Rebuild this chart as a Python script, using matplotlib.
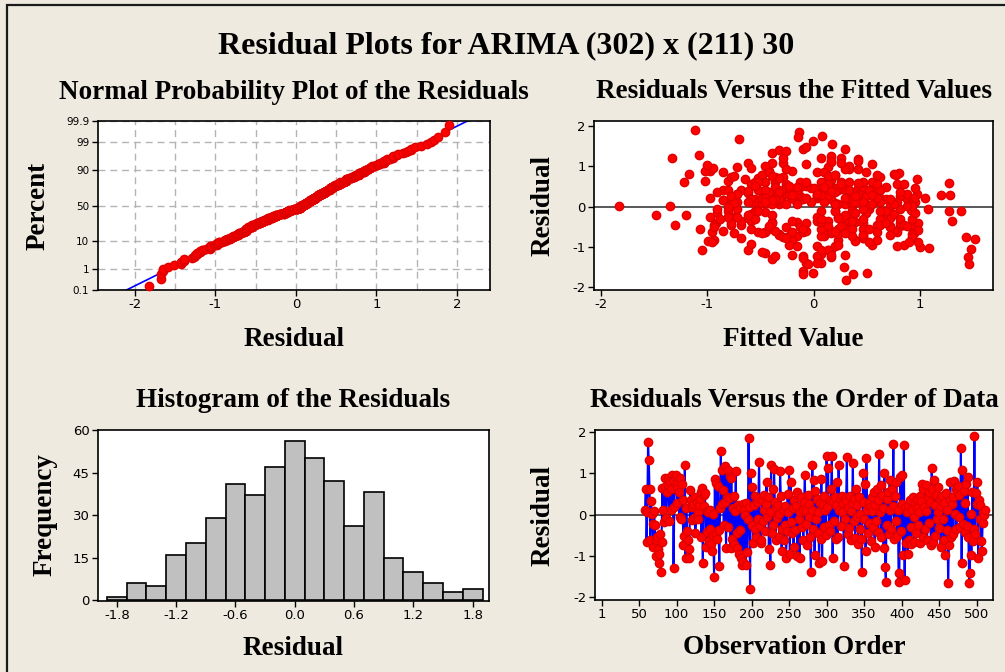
import matplotlib
matplotlib.use("Agg")
import matplotlib.pyplot as plt
import numpy as np
from statistics import NormalDist
from matplotlib.patches import Rectangle
from matplotlib.ticker import FixedLocator, FixedFormatter

plt.rcParams["axes.unicode_minus"] = False

# ---------------- data ----------------
first_obs = 58

residuals = [
    0.11, 0.62, -0.66, 0.05, 1.76, 1.33, 0.63, -0.62, 0.33, 0.02,
    -0.22, -0.78, 0.08, -0.25, -0.62, -1.00, -0.55, -0.83, -1.17, -0.95,
    -0.48, -1.39, -0.67, 0.64, 0.12, -0.18, 0.66, 0.89, -0.08, 0.55,
    0.89, 0.72, -0.15, 0.78, 0.62, 0.10, 0.97, 0.85, -1.29, 0.18,
    0.92, 0.95, 0.68, 0.28, 0.80, 0.55, -0.05, 0.88, -0.12, 0.74,
    0.35, -0.74, -0.52, 1.21, -1.07, 0.15, -0.40, -0.62, -0.85, -1.07,
    0.60, 0.36, -0.13, 0.18, 0.25, -0.08, 0.42, -0.45, -0.12, 0.30,
    0.05, -0.10, 0.22, 0.38, 0.55, -0.55, 0.64, -1.19, 0.48, 0.20,
    0.52, -0.78, -0.42, 0.08, 0.05, -0.65, -0.35, 0.12, -0.72, -0.88,
    0.02, -0.50, -1.51, 0.86, -0.48, 0.76, -0.60, 0.70, -0.38, -1.25,
    0.15, 1.55, 0.25, 1.09, 0.60, -0.25, 1.17, 0.30, -0.82, 0.42,
    1.09, -0.30, 0.40, 0.93, -0.82, 0.89, -0.60, 0.15, 0.45, -0.72,
    0.08, 1.05, -0.82, -0.46, 0.22, -0.95, -0.38, 0.18, -1.05, -1.23,
    0.25, -1.15, 0.12, -0.02, -1.23, 0.28, -0.92, -0.10, 1.85, 0.18,
    -1.82, 1.02, -0.25, 0.68, -0.70, 0.22, -0.35, 0.45, -0.55, 0.30,
    -0.12, 0.40, 1.27, -0.28, -0.70, -0.62, 0.35, -0.15, 0.48, 0.10,
    -0.40, 0.25, 0.78, -0.05, 0.42, -0.85, 0.05, -1.23, 1.21, -0.45,
    0.62, -0.25, 1.10, 0.30, -0.62, 0.18, -0.08, 0.22, 0.02, -0.55,
    1.05, 0.45, -0.88, -0.35, 0.10, -0.62, -0.25, 0.20, -1.07, -0.40,
    0.50, 0.05, 1.09, -0.95, 0.78, -0.18, -0.45, 0.15, -0.80, 0.35,
    -0.38, 0.20, 0.55, -1.02, 0.48, -0.10, -1.07, 0.05, 0.42, -0.30,
    0.12, -0.62, 0.30, 0.97, -0.22, 0.08, -0.75, 0.48, -0.05, 0.25,
    -0.55, -1.39, 0.12, 1.21, -0.35, 0.85, -0.98, 0.58, -0.12, 0.38,
    -0.45, 0.05, -1.19, 0.28, -0.60, 0.86, -1.12, 0.22, -0.30, 0.45,
    0.10, -0.50, 1.43, 0.18, 1.13, -0.25, 0.35, -0.40, 0.62, 1.43,
    -1.07, 0.32, -0.15, 0.42, -0.60, 0.22, 0.80, -0.55, 1.21, 0.12,
    0.38, -0.28, 0.45, 0.05, 0.28, -1.25, 0.40, -0.10, 0.32, 1.39,
    -0.48, 0.15, -0.32, 0.45, -0.62, 0.08, 0.28, 1.25, -0.15, 0.38,
    -0.58, 0.62, -0.05, 0.22, -0.72, 0.42, 0.02, -0.35, -0.60, -1.39,
    0.30, 1.01, -0.10, 0.75, -0.88, 1.37, 0.12, -0.45, 0.28, -0.20,
    0.18, -0.65, 0.42, 0.08, -0.30, 0.55, -0.78, 0.22, -0.15, 0.62,
    0.35, -0.42, 1.48, 0.05, 0.72, -0.55, 0.48, 0.15, -0.82, 1.01,
    -1.27, -1.65, 0.38, -0.25, 0.55, -0.48, 0.85, 0.10, -0.35, 0.62,
    0.20, 1.72, -0.60, 0.45, -0.15, 0.78, -0.52, 0.12, -1.65, -1.43,
    0.92, -0.40, 0.95, 0.25, -0.98, 1.68, -1.59, 0.18, -0.70, 0.05,
    -0.95, 0.22, -0.62, 0.35, -0.30, -0.72, 0.10, 0.42, -0.05, -0.68,
    0.28, -0.45, 0.15, 0.38, -0.25, 0.05, 0.45, -0.70, 0.32, 0.75,
    -0.55, 0.62, 0.18, -0.35, 0.72, 0.08, -0.62, 0.40, 0.55, -0.20,
    0.30, -0.75, 1.13, 0.62, -0.68, 0.85, 0.22, -0.52, 0.48, -0.12,
    0.68, 0.05, -0.32, 0.38, -0.78, 0.20, 0.45, -0.10, -0.62, 0.28,
    -0.98, 0.52, -0.38, 0.12, -1.67, -0.75, 0.35, 0.78, -0.55, 0.25,
    0.42, -0.48, 0.82, 0.02, 0.62, -0.35, 0.55, 0.70, -0.05, 0.48,
    -0.30, 1.63, -1.19, 1.09, -0.22, 0.58, 0.28, -0.42, 0.75, -0.28,
    0.92, -0.55, -1.67, -1.43, 0.02, -0.98, 0.55, -0.65, -0.35, 1.90,
    -0.48, 0.52, 0.25, 0.78, -1.07, 0.36, -0.12, 0.22, -0.65, -0.89,
    -0.20, 0.05, -0.02, 0.11,
]

fitted = [
    -0.46, 0.55, -0.75, 0.29, 0.08, -0.39, -1.02, 0.20, -0.62, -1.83,
    -1.48, 0.46, -0.16, 0.72, -0.52, 1.00, 0.23, -0.94, 0.07, 0.55,
    0.81, 0.07, -0.33, -0.81, 0.39, -0.59, 0.16, -0.98, 0.92, -0.26,
    -0.20, 0.62, -0.91, -0.49, 0.26, 0.95, -0.72, 0.03, -0.39, -0.10,
    0.42, -0.95, 0.13, -0.29, 0.75, -0.55, 0.52, -0.42, 0.20, -0.78,
    0.33, -0.23, 0.91, -1.33, -0.62, 0.59, -0.07, 0.78, -0.99, 0.16,
    -1.22, 0.07, -0.46, 0.88, -0.13, 0.36, -0.68, -1.30, 0.49, 0.97,
    0.23, -0.81, 0.59, -0.36, 0.10, -1.07, -0.52, 0.29, 0.68, -0.20,
    -0.07, 0.46, -0.92, 0.20, -0.33, 0.94, 0.03, -0.59, -0.16, -0.96,
    0.52, -0.26, 0.28, -0.42, 0.72, 0.13, -0.85, -0.52, 0.39, 0.16,
    -0.49, 0.17, 0.81, -0.39, 0.07, -0.75, 0.42, -0.16, 0.59, -0.33,
    -0.62, 0.26, -0.85, 0.33, -0.20, -1.02, 0.75, 0.46, -0.03, 0.10,
    -0.29, 0.55, 0.39, -0.68, 0.62, 0.85, -0.39, 0.16, 1.48, -0.36,
    0.13, -0.46, -0.81, 0.49, 0.03, 1.20, -0.59, 1.38, -0.14, 0.68,
    0.30, -1.00, -0.98, -0.65, 0.46, 1.05, 0.33, -0.23, -0.42, 0.88,
    -0.55, 0.20, -1.08, 0.72, -0.33, 0.10, -0.91, 0.36, -0.13, -0.72,
    0.81, -0.39, -0.49, 1.07, 0.23, 0.39, -0.26, -0.10, 0.07, 0.59,
    -0.36, -0.81, 0.16, 0.52, -0.20, -0.55, 0.91, 0.03, -1.35, 0.29,
    -0.07, 0.42, 0.98, -0.68, 0.62, -0.46, 0.23, -0.98, 0.13, 0.46,
    0.59, -0.52, -0.29, -0.23, 0.20, 0.75, -0.78, 0.33, 1.52, -0.42,
    -0.16, 0.94, -0.59, 1.08, -0.36, 0.07, -1.05, 0.49, 0.29, -0.88,
    0.36, -0.10, -0.72, 0.13, 0.65, -0.42, 1.43, -0.26, 0.81, 0.03,
    0.46, 0.03, -0.55, 0.26, 1.30, -0.85, 0.20, 1.27, 1.27, -0.33,
    -0.94, 0.55, -0.20, 1.28, 0.33, 0.10, -0.49, -0.78, 0.62, 0.20,
    -0.36, 0.72, -0.10, -0.59, 0.42, 0.03, -0.23, 0.98, -0.46, 0.29,
    0.13, -0.33, 0.49, -0.81, -0.07, 0.59, -1.17, 0.36, -0.29, 0.78,
    0.07, -0.62, 0.23, -0.39, 0.46, 1.45, -0.16, 0.65, -0.72, -0.33,
    0.26, -0.85, 0.81, 0.00, -0.46, 0.39, -0.23, 0.16, -0.55, 0.52,
    0.98, -0.13, -0.91, 0.33, 0.07, -0.52, 0.72, -0.20, -0.36, -0.07,
    0.42, -0.46, 0.20, -0.75, 0.52, -0.26, -0.62, 0.85, 0.03, 0.29,
    -0.33, 0.16, 0.62, -0.49, 0.92, 0.13, -0.68, -0.20, 0.39, -0.55,
    0.20, -0.39, -0.07, 0.75, -0.29, 0.07, 0.46, -0.85, 0.23, 0.33,
    -0.10, -0.01, 0.55, -0.72, 0.26, 0.88, -0.42, 0.10, -0.59, 0.46,
    -0.49, -0.15, 0.16, -0.26, 0.95, 0.59, -0.13, 0.39, 0.50, -0.05,
    0.29, -0.78, -0.59, 0.49, 0.03, -0.70, -0.10, -0.36, 0.72, 0.20,
    0.23, -0.20, -0.96, 0.81, -0.55, 0.36, -0.03, 0.52, -0.72, 0.92,
    0.07, 0.62, -0.39, 0.16, -0.81, 0.91, -0.23, 0.46, 0.03, 0.13,
    -0.59, 0.33, 0.72, 0.10, -0.36, -0.75, 0.59, -0.46, 0.78, -1.20,
    0.39, -0.29, 0.16, -0.07, 0.23, 0.49, -0.46, -0.94, 0.10, 0.68,
    0.97, -0.16, 0.46, -0.62, -0.26, 0.29, 0.95, -0.52, 0.20, 0.55,
    0.78, -0.23, 0.07, -0.46, 0.37, 0.92, 0.36, 0.20, -0.10, -0.78,
    0.33, -0.42, 0.80, 0.92, -0.52, 0.13, 0.59, -0.33, 0.46, -0.16,
    0.07, -0.01, 0.16, 0.26, -0.62, 0.42, -0.20, 0.68, -0.39, 0.23,
    -0.26, 0.52, -0.10, 1.46, 0.88, -0.16, 0.85, -0.49, 0.36, -1.12,
    0.13, -0.55, 0.39, 0.77, 0.07, -0.33, 0.62, -0.07, 0.29, 0.90,
    -0.39, 0.20, -0.81, 0.46,
]

hist_centers = [-1.8, -1.6, -1.4, -1.2, -1.0, -0.8, -0.6, -0.4, -0.2, 0.0,
                0.2, 0.4, 0.6, 0.8, 1.0, 1.2, 1.4, 1.6, 1.8]
hist_counts = [1, 6, 5, 16, 20, 29, 41, 37, 47, 56,
               50, 42, 26, 38, 15, 10, 6, 3, 4]

npp_percent_ticks = [0.1, 1, 10, 50, 90, 99, 99.9]
npp_percent_labels = ["0.1", "1", "10", "50", "90", "99", "99.9"]
hist_xticks = [-1.8, -1.2, -0.6, 0.0, 0.6, 1.2, 1.8]
hist_yticks = [0, 15, 30, 45, 60]
order_xticks = [1, 50, 100, 150, 200, 250, 300, 350, 400, 450, 500]

main_title = "Residual Plots for ARIMA (302) x (211) 30"

# ---------------- styling ----------------
W, H = 1005, 672
BG = "#EEEAE0"
RED = "#FF0000"
BLUE = "#0000FF"
SERIF = ["Liberation Serif", "DejaVu Serif"]
TICKFONT = "DejaVu Sans"

fig = plt.figure(figsize=(W / 100, H / 100), dpi=100, facecolor=BG)

# outer frame (cropped at right/bottom in the reference)
fig.add_artist(Rectangle((7 / W, -0.2), 1.5, 1.2 - 5 / H, transform=fig.transFigure,
                         fill=False, edgecolor="#1a1a1a", linewidth=1.6))


def rect(l, t, r, b):
    return [l / W, 1 - b / H, (r - l) / W, (b - t) / H]


def ftext(x, y, s, size, rotation=0, va="baseline"):
    fig.text(x / W, 1 - y / H, s, ha="center", va=va, rotation=rotation,
             fontsize=size, fontweight="bold", family=SERIF, color="black")


def style(ax, tsize=9.5):
    ax.set_facecolor("white")
    for sp in ax.spines.values():
        sp.set_linewidth(1.2)
        sp.set_color("black")
    ax.tick_params(axis="both", which="major", direction="out", length=4, width=1.0,
                   labelsize=tsize, pad=2, top=False, right=False)
    for lab in ax.get_xticklabels() + ax.get_yticklabels():
        lab.set_family(TICKFONT)


res = np.array(residuals, dtype=float)
fit = np.array(fitted, dtype=float)
n = min(len(res), len(fit))
res = res[:n]
fit = fit[:n]
obs = np.arange(first_obs, first_obs + n)
nd = NormalDist()

# ---------- Normal probability plot ----------
ax1 = fig.add_axes(rect(97.7, 121, 490, 290))
srt = np.sort(res)
pct = (np.arange(1, n + 1) - 0.3) / (n + 0.4)
zq = np.array([nd.inv_cdf(p) for p in pct])
mu, sd = res.mean(), res.std(ddof=1)
xl = np.array([-3.0, 3.0])
ax1.plot(xl, (xl - mu) / sd, color=BLUE, lw=1.2, zorder=2)
ax1.plot(srt, zq, "o", color=RED, mec="#E00000", ms=6, zorder=3, clip_on=False)
ax1.set_xlim(-2.46, 2.41)
ax1.set_ylim(nd.inv_cdf(0.001), nd.inv_cdf(0.999))
ax1.xaxis.set_major_locator(FixedLocator([-2, -1, 0, 1, 2]))
ax1.xaxis.set_minor_locator(FixedLocator([-1.5, -0.5, 0.5, 1.5]))
ax1.yaxis.set_major_locator(FixedLocator([nd.inv_cdf(p / 100) for p in npp_percent_ticks]))
ax1.yaxis.set_major_formatter(FixedFormatter(npp_percent_labels))
ax1.grid(True, which="both", color="#B4B4B4", linestyle=(0, (5, 3.5)), linewidth=1.0, zorder=0)
ax1.tick_params(axis="x", which="minor", length=0)
style(ax1)
ax1.tick_params(axis="y", labelsize=7.5)

# ---------- Residuals vs fitted ----------
ax2 = fig.add_axes(rect(594, 121, 993, 290))
ax2.axhline(0, color="#3c3c3c", lw=1.2, zorder=1)
ax2.plot(fit, res, "o", color=RED, mec="#E00000", ms=6, zorder=3)
ax2.set_xlim(-2.066, 1.685)
ax2.set_ylim(-2.07, 2.12)
ax2.set_xticks([-2, -1, 0, 1])
ax2.set_yticks([-2, -1, 0, 1, 2])
style(ax2)

# ---------- Histogram ----------
ax3 = fig.add_axes(rect(98, 430, 489, 601))
ax3.bar(hist_centers, hist_counts, width=0.2, color="#C0C0C0", edgecolor="black",
        linewidth=1.2, zorder=2)
ax3.set_xlim(-1.99, 1.965)
ax3.set_ylim(-0.35, 60)
ax3.set_xticks(hist_xticks)
ax3.set_xticklabels([f"{v:.1f}" for v in hist_xticks])
ax3.set_yticks(hist_yticks)
style(ax3)

# ---------- Residuals vs order ----------
ax4 = fig.add_axes(rect(595, 430, 993, 600))
ax4.axhline(0, color="#3c3c3c", lw=1.2, zorder=1)
ax4.plot(obs, res, color=BLUE, lw=1.5, zorder=2)
ax4.plot(obs, res, "o", color=RED, mec="#E00000", ms=6, zorder=3)
ax4.set_xlim(-8.7, 521.8)
ax4.set_ylim(-2.08, 2.056)
ax4.set_xticks(order_xticks)
ax4.set_yticks([-2, -1, 0, 1, 2])
style(ax4)

# ---------- texts ----------
ftext(506, 53, main_title, 23)
ftext(293.9, 99, "Normal Probability Plot of the Residuals", 19.5)
ftext(793.5, 98.5, "Residuals Versus the Fitted Values", 19.5)
ftext(293.5, 407, "Histogram of the Residuals", 19.5)
ftext(794, 407, "Residuals Versus the Order of Data", 19.5)
ftext(293.9, 346, "Residual", 19.5)
ftext(793.5, 346, "Fitted Value", 19.5)
ftext(293.5, 655, "Residual", 19.5)
ftext(794, 654, "Observation Order", 19.5)
ftext(38, 205.5, "Percent", 19.5, rotation=90, va="center")
ftext(543, 205.5, "Residual", 19.5, rotation=90, va="center")
ftext(45, 515, "Frequency", 19.5, rotation=90, va="center")
ftext(543, 515, "Residual", 19.5, rotation=90, va="center")

fig.savefig("out.png", dpi=100, facecolor=BG)
